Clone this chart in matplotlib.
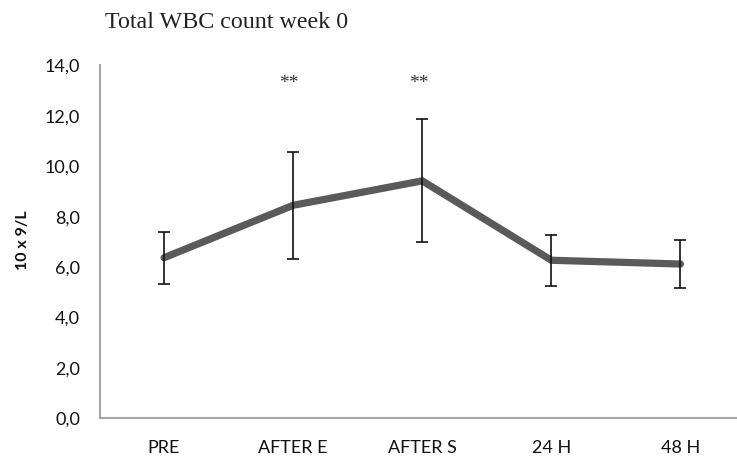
import matplotlib
matplotlib.use("Agg")
import matplotlib.pyplot as plt

categories = ["PRE", "AFTER E", "AFTER S", "24 H", "48 H"]
means = [6.37, 8.45, 9.42, 6.27, 6.12]
errors = [1.04, 2.13, 2.44, 1.01, 0.95]
significance = ["", "**", "**", "", ""]
yticks = [0, 2, 4, 6, 8, 10, 12, 14]
ytick_labels = ["0,0", "2,0", "4,0", "6,0", "8,0", "10,0", "12,0", "14,0"]

W, H = 737, 457
fig = plt.figure(figsize=(W / 100, H / 100), dpi=100)
left, right, top, bottom = 99.5, 745, 65.4, 418.3
ax = fig.add_axes([left / W, (H - bottom) / H, (right - left) / W, (bottom - top) / H])

x = list(range(len(categories)))
ax.plot(x, means, color="#5a5a5a", lw=5.2, solid_capstyle="round", solid_joinstyle="miter", zorder=2)
ax.errorbar(x, means, yerr=errors, fmt="none", ecolor="#111111", elinewidth=1.2,
            capsize=4, capthick=1.2, zorder=3)

for xi, s in zip(x, significance):
    if s:
        ax.text(xi - 0.03, 13.3, s, ha="center", va="center", fontsize=14,
                family="Liberation Serif", color="#333333")

ax.set_xlim(-0.5, len(categories) - 0.5)
ax.set_ylim(0, 14)
ax.set_xticks(x)
ax.set_xticklabels(categories, fontsize=13, family="Lato", color="#111111")
ax.set_yticks(yticks)
ax.set_yticklabels(ytick_labels, fontsize=13, family="Lato", color="#111111")
ax.tick_params(axis="y", length=0, pad=14)
ax.tick_params(axis="x", length=0, pad=15.5)

for sp in ["top", "right"]:
    ax.spines[sp].set_visible(False)
for sp in ["left", "bottom"]:
    ax.spines[sp].set_color("#a6a6a6")
    ax.spines[sp].set_linewidth(1.5)

fig.text(23 / W, 1 - 240 / H, "10 x 9/L", rotation=90, ha="center", va="center",
         fontsize=11.5, fontweight="bold", family="Lato", color="#111111")
fig.text(105 / W, 1 - 23 / H, "Total WBC count week 0", ha="left", va="center",
         fontsize=17.3, family="Liberation Serif", color="#222222")

fig.savefig("out.png", dpi=100)
